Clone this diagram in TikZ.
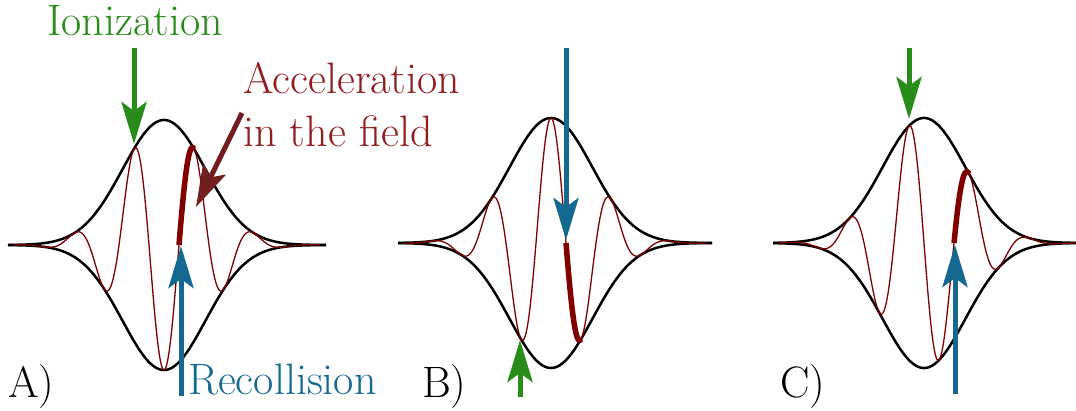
\documentclass[tikz,border=0pt]{standalone}
\usetikzlibrary{arrows.meta}

\definecolor{ionGreen}{RGB}{40,140,25}
\definecolor{recBlue}{RGB}{20,105,145}
\definecolor{fieldRed}{RGB}{128,0,0}
\definecolor{accRed}{RGB}{145,30,30}
\definecolor{accArrow}{RGB}{115,30,30}

\begin{document}
\begin{tikzpicture}[
    x=1pt, y=-1pt,
    declare function={env(\t)=125*exp(-((\t)/58.55)*((\t)/58.55));},
    envelope/.style={draw=black, line width=2.5pt},
    carrier/.style={draw=fieldRed, line width=1.3pt},
    path/.style={draw=fieldRed, line width=5.5pt},
    bigarrow/.style={line width=5pt, -{Stealth[length=42pt, width=25pt, inset=9pt]}},
    tag/.style={font=\fontsize{44}{53}\selectfont, inner sep=0pt},
    panel/.style={font=\fontsize{44}{53}\selectfont, inner sep=0pt, anchor=base west}
]
\useasboundingbox (0,0) rectangle (1076,411);

% Panel A
\draw[envelope] plot[domain=-156:162, samples=200] ({164+\x}, {245-env(\x)});
\draw[envelope] plot[domain=-156:162, samples=200] ({164+\x}, {245+env(\x)});
\draw[carrier] plot[domain=-150:156, samples=300] ({164+\x}, {245+env(\x)*cos(6*\x)});
\draw[path] plot[domain=15:30, samples=20] ({164+\x}, {245+env(\x)*cos(6*\x)});

\node[tag, text=ionGreen, anchor=base] (ionization) at (135,36) {Ionization};
\coordinate (ionA) at (134,48);
\coordinate (peakA) at (134,144);
\draw[bigarrow, draw=ionGreen, fill=ionGreen] (ionA) -- (peakA);

\node[tag, text=accRed, anchor=north west, align=left] (acceleration) at (243,62)
    {Acceleration\\in the field};
\coordinate (accStart) at (242,113);
\coordinate (accEnd) at (196,207);
\draw[bigarrow, draw=accArrow, fill=accArrow] (accStart) -- (accEnd);

\node[tag, text=recBlue, anchor=base west] (recollision) at (188,395) {Recollision};
\coordinate (recA) at (181,396);
\coordinate (zeroA) at (181,246);
\draw[bigarrow, draw=recBlue, fill=recBlue] (recA) -- (zeroA);

\node[panel] (labelA) at (8,397) {A)};

% Panel B
\draw[envelope] plot[domain=-153:161, samples=200] ({551+\x}, {243-env(\x)});
\draw[envelope] plot[domain=-153:161, samples=200] ({551+\x}, {243+env(\x)});
\draw[carrier] plot[domain=-147:155, samples=300] ({551+\x}, {243-env(\x)*cos(6*\x)});
\draw[path] plot[domain=15:30, samples=20] ({551+\x}, {243-env(\x)*cos(6*\x)});

\coordinate (recB) at (566,48);
\coordinate (zeroB) at (566,240);
\draw[bigarrow, draw=recBlue, fill=recBlue] (recB) -- (zeroB);

\coordinate (ionB) at (520,397);
\coordinate (troughB) at (520,340);
\draw[bigarrow, draw=ionGreen, fill=ionGreen] (ionB) -- (troughB);

\node[panel] (labelB) at (422,397) {B)};

% Panel C
\draw[envelope] plot[domain=-151:160, samples=200] ({924+\x}, {243-env(\x)});
\draw[envelope] plot[domain=-151:160, samples=200] ({924+\x}, {243+env(\x)});
\draw[carrier] plot[domain=-145:154, samples=300] ({924+\x}, {243-env(\x)*cos(6*(\x+15))});
\draw[path] plot[domain=30:45, samples=20] ({924+\x}, {243-env(\x)*cos(6*(\x+15))});

\coordinate (ionC) at (909,48);
\coordinate (peakC) at (909,119);
\draw[bigarrow, draw=ionGreen, fill=ionGreen] (ionC) -- (peakC);

\coordinate (recC) at (955,394);
\coordinate (zeroC) at (955,245);
\draw[bigarrow, draw=recBlue, fill=recBlue] (recC) -- (zeroC);

\node[panel] (labelC) at (780,397) {C)};

\end{tikzpicture}
\end{document}
